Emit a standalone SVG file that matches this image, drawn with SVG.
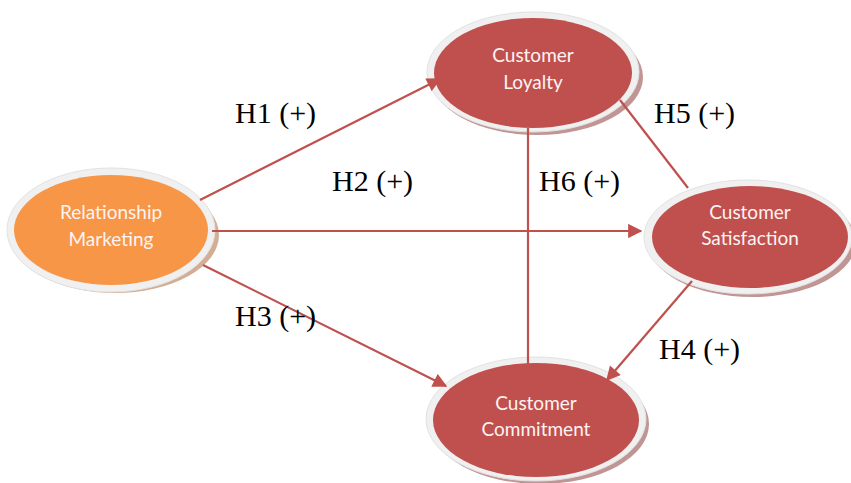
<svg xmlns="http://www.w3.org/2000/svg" width="851" height="483" viewBox="0 0 851 483">
<defs>
<style>
.ring{fill:#f0f0f0;stroke:#e2e2e2;stroke-width:1}
.shadow{fill:#b07a78;opacity:0.8}
.shadowO{fill:#c89a7a;opacity:0.8}
.red{fill:#c0504d}
.org{fill:#f79646}
.nt{font-family:Lato,"Open Sans","Liberation Sans",sans-serif;font-size:19px;fill:#fdf3f3;text-anchor:middle}
.lbl{font-family:"Liberation Serif","Times New Roman",serif;font-size:30px;fill:#000}
.ln{stroke:#c0504d;stroke-width:2.2;fill:none}
</style>
<marker id="ah" viewBox="0 0 10 10" refX="9" refY="5" markerWidth="7.5" markerHeight="6.5" markerUnits="strokeWidth" orient="auto">
<path d="M0,0 L10,5 L0,10 z" fill="#c0504d"/>
</marker>
</defs>
<g id="node-loyalty">
<ellipse class="shadow" cx="537" cy="77" rx="106" ry="58"/>
<ellipse class="ring" cx="533" cy="72" rx="106" ry="60"/>
<ellipse class="red" cx="533" cy="73" rx="99" ry="55"/>
<text class="nt" x="533" y="62">Customer</text>
<text class="nt" x="533" y="89">Loyalty</text>
</g>
<g id="node-rm">
<ellipse class="shadowO" cx="115" cy="235" rx="104" ry="58"/>
<ellipse class="ring" cx="111" cy="230" rx="104" ry="62"/>
<ellipse class="org" cx="111" cy="230" rx="97" ry="55"/>
<text class="nt" x="111" y="219">Relationship</text>
<text class="nt" x="111" y="246">Marketing</text>
</g>
<g id="node-satisfaction">
<ellipse class="shadow" cx="752" cy="242" rx="104" ry="55"/>
<ellipse class="ring" cx="748" cy="237" rx="104" ry="57"/>
<ellipse class="red" cx="750" cy="237" rx="98" ry="51"/>
<text class="nt" x="750" y="219">Customer</text>
<text class="nt" x="750" y="245">Satisfaction</text>
</g>
<g id="node-commitment">
<ellipse class="shadow" cx="540" cy="424" rx="109" ry="60"/>
<ellipse class="ring" cx="536" cy="419" rx="110" ry="62"/>
<ellipse class="red" cx="536" cy="420" rx="103" ry="57"/>
<text class="nt" x="536" y="410">Customer</text>
<text class="nt" x="536" y="436">Commitment</text>
</g>
<g id="connectors">
<line class="ln" x1="200" y1="200" x2="440" y2="79" marker-end="url(#ah)"/>
<line class="ln" x1="212" y1="231" x2="641" y2="231" marker-end="url(#ah)"/>
<line class="ln" x1="203" y1="265" x2="446" y2="386" marker-end="url(#ah)"/>
<line class="ln" x1="692" y1="281" x2="607" y2="380" marker-end="url(#ah)"/>
<line class="ln" x1="620" y1="100" x2="688" y2="188"/>
<line class="ln" x1="528" y1="128" x2="528" y2="366"/>
</g>
<g id="labels">
<text class="lbl" x="235" y="123">H1 (+)</text>
<text class="lbl" x="332" y="191">H2 (+)</text>
<text class="lbl" x="654" y="123">H5 (+)</text>
<text class="lbl" x="539" y="191">H6 (+)</text>
<text class="lbl" x="235" y="326">H3 (+)</text>
<text class="lbl" x="659" y="359">H4 (+)</text>
</g>
</svg>
